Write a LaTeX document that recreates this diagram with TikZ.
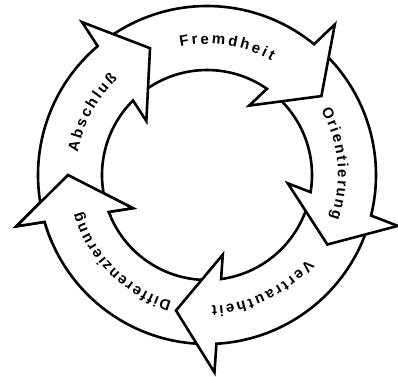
\documentclass[tikz,border=0pt]{standalone}
\usepackage{fontspec}
\setmainfont{Liberation Sans}
\newfontfamily\lblfont{Liberation Sans}
\newcommand\lblstyle{\lblfont\bfseries\fontsize{15}{17}\selectfont}
\usetikzlibrary{calc,decorations.text}
\def\Rout{169}
\def\rin{105}
\def\rmid{139}
\def\hw{59pt}
\tikzset{
  arrowshape/.style={draw=black, fill=white, line width=2.6pt, line join=miter},
  lbltext/.style={decorate, decoration={text along path, text={|\lblstyle|#1}, text align={fit to path}}}
}
% #1 name, #2 tail angle, #3 base angle, #4 tip angle
\newcommand\cyclearrow[4]{%
  \coordinate (#1-m) at (#3:\rmid);
  \coordinate (#1-t) at (#4:\rmid);
  \coordinate (#1-bo) at ($(#1-m)!\hw!90:(#1-t)$);
  \coordinate (#1-bi) at ($(#1-m)!\hw!-90:(#1-t)$);
  \draw[arrowshape] (#2:\Rout) arc[start angle=#2, end angle=#3-1.6, radius=\Rout]
    -- (#1-bo) -- (#1-t) -- (#1-bi) -- (#3+2.9:\rin)
    arc[start angle=#3+2.9, end angle=#2, radius=\rin] -- cycle;
}
\begin{document}
\lblstyle
\begin{tikzpicture}[x=1pt,y=1pt]
\useasboundingbox (-207,-201) rectangle (191,175);
% drawn in reverse so each head lies over the next tail
\cyclearrow{dif}{-92.2}{-162.3}{-180}
\cyclearrow{ver}{-19.3}{-85.2}{-102.9}
\cyclearrow{ori}{45.3}{-12.3}{-30}
\cyclearrow{fre}{124.9}{52.3}{34.6}
\cyclearrow{abs}{190.7}{131.9}{114.2}
% head of Differenzierung over the tail of Abschluss
\draw[arrowshape] (-156.3:\Rout) arc[start angle=-156.3, end angle=-163.9, radius=\Rout]
  -- (dif-bo) -- (dif-t) -- (dif-bi) -- (-159.4:\rin)
  arc[start angle=-159.4, end angle=-156.3, radius=\rin];
% labels
\path[lbltext=Fremdheit] (101.7:131) arc[start angle=101.7, end angle=60.5, radius=131];
\path[lbltext=Abschluß] (170:131) arc[start angle=170, end angle=133, radius=131];
\path[lbltext=Orientierung] (29.6:131) arc[start angle=29.6, end angle=-19.4, radius=131];
\path[lbltext=Vertrautheit] (-40:131) arc[start angle=-40, end angle=-88, radius=131];
\path[lbltext=Differenzierung] (-105.6:131) arc[start angle=-105.6, end angle=-163.7, radius=131];
\end{tikzpicture}
\end{document}
